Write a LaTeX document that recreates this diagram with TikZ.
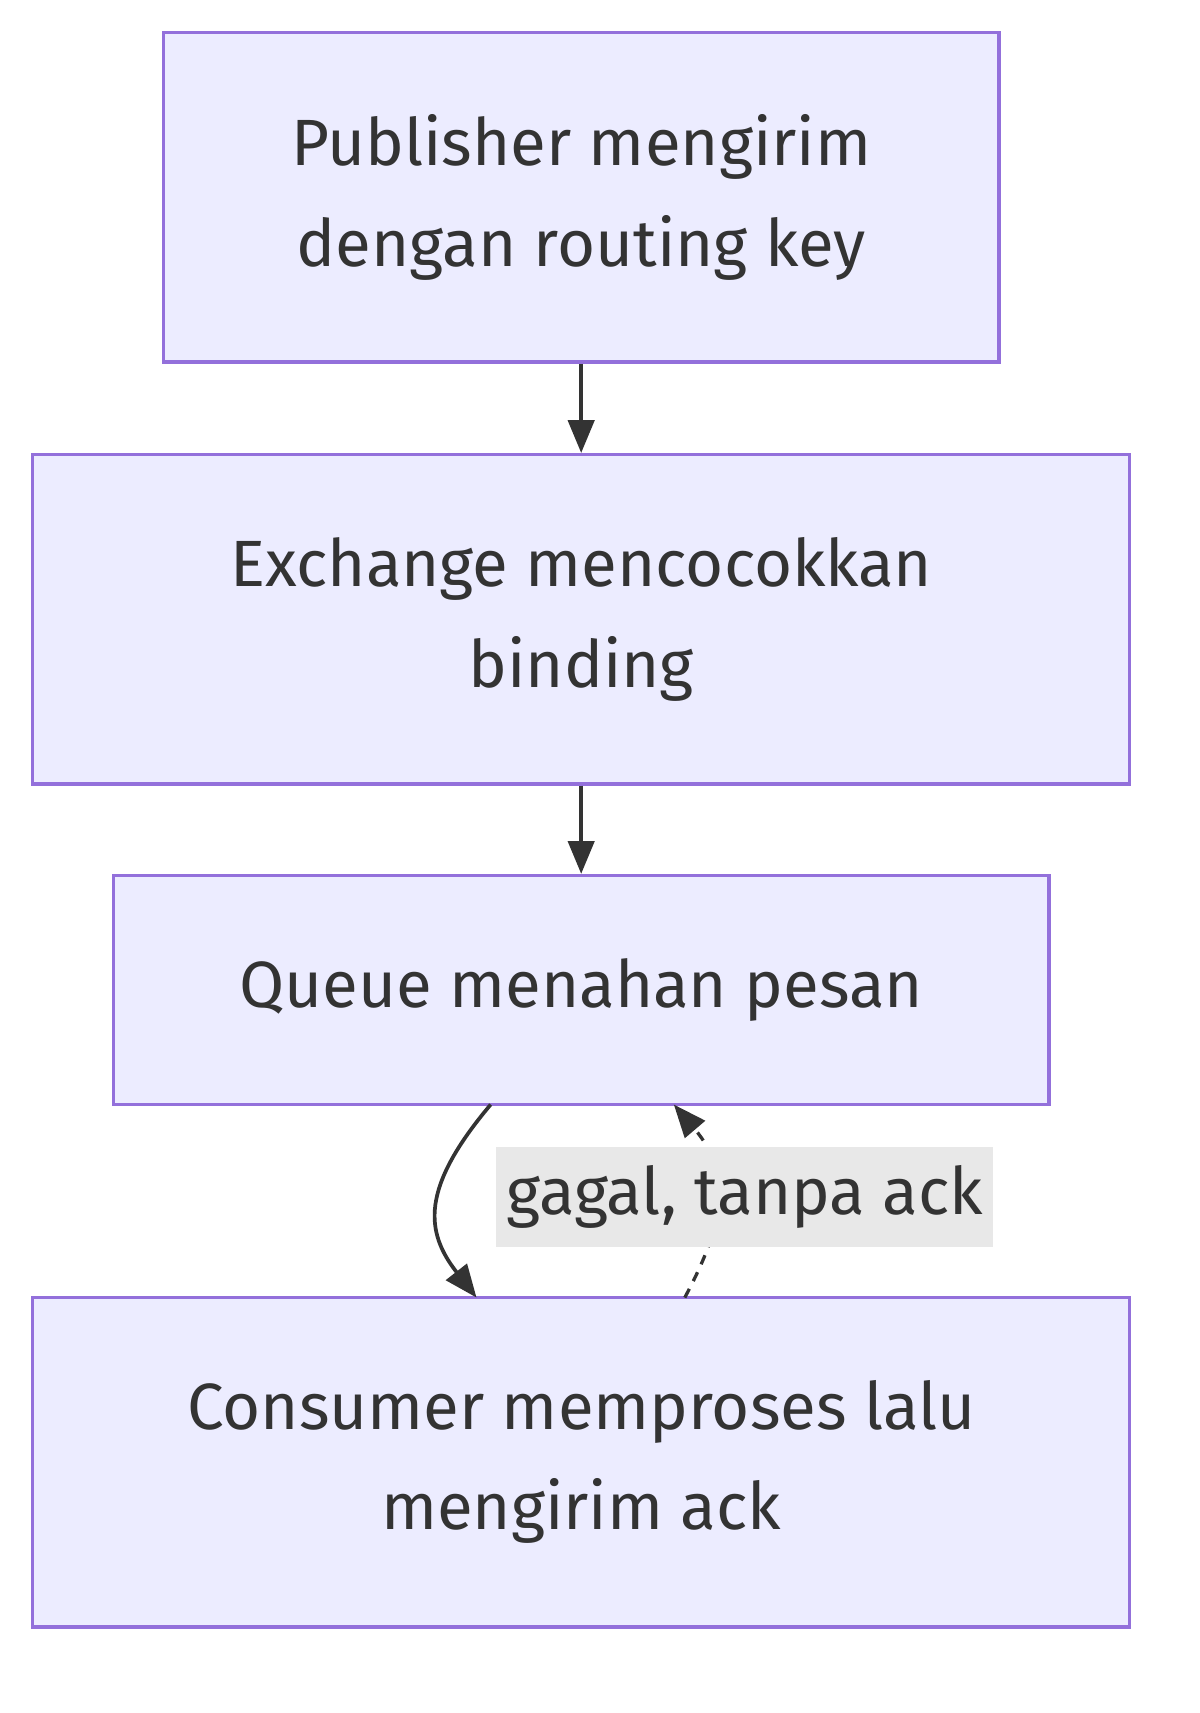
\documentclass[tikz,border=0pt]{standalone}
\usepackage{fontspec}
\setmainfont{Fira Sans}
\usetikzlibrary{arrows.meta}
\definecolor{boxfill}{HTML}{ECECFF}
\definecolor{boxline}{HTML}{9370DB}
\definecolor{txt}{HTML}{333333}
\definecolor{lbl}{HTML}{E8E8E8}
\begin{document}
\begin{tikzpicture}[x=1pt,y=-1pt,
  box/.style={draw=boxline,fill=boxfill,line width=3.2pt,text=txt,align=center,inner sep=0pt,font=\fontsize{60}{92}\selectfont},
  arr/.style={-{Triangle[length=30pt,width=24pt]},line width=3.4pt,draw=txt}]
\useasboundingbox[fill=white] (0,0) rectangle (1100,1571);
\node[box,minimum width=766pt,minimum height=302pt] (a) at (533,181) {Publisher mengirim\\dengan routing key};
\node[box,minimum width=1006pt,minimum height=302pt] (b) at (533,568) {Exchange mencocokkan\\binding};
\node[box,minimum width=858pt,minimum height=210pt] (c) at (533,908) {Queue menahan pesan};
\node[box,minimum width=1006pt,minimum height=302pt] (d) at (533,1341) {Consumer memproses lalu\\mengirim ack};
\draw[arr] (a.south) -- (b.north);
\draw[arr] (b.south) -- (c.north);
\coordinate (c1) at (450,1013);
\coordinate (d1) at (437,1190);
\coordinate (d2) at (628,1190);
\coordinate (c2) at (618,1013);
\draw[arr] (c1) .. controls (385,1090) and (390,1130) .. (d1);
\draw[arr,dash pattern=on 9pt off 8pt,line width=3pt] (d2) .. controls (660,1130) and (675,1080) .. (c2);
\node[fill=lbl,text=txt,inner sep=0pt,minimum width=456pt,minimum height=92pt,font=\fontsize{60}{70}\selectfont] (l) at (683,1098) {gagal, tanpa ack};
\end{tikzpicture}
\end{document}
